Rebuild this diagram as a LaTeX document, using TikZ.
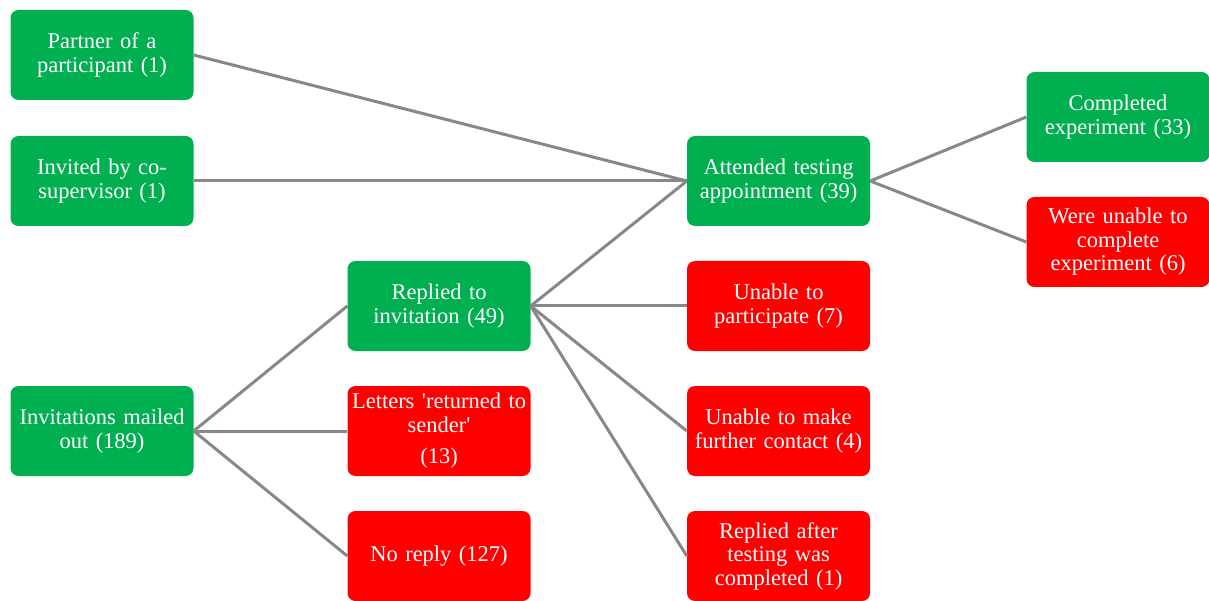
\documentclass[tikz,border=0pt]{standalone}
\usepackage{fontspec}
\setmainfont{Liberation Serif}[Ligatures=TeXOff, WordSpace=0.75]
\usepackage{tikz}
\usepackage{xcolor}
\usetikzlibrary{positioning}
\definecolor{boxgrn}{HTML}{00B050}
\definecolor{boxred}{HTML}{FF0000}
\definecolor{lnk}{HTML}{888888}
\tikzset{grnbox/.style={rectangle, rounded corners=8pt, fill=boxgrn, text=white, minimum width=183pt, minimum height=90pt, text width=178pt, align=center, inner sep=0pt, font=\fontsize{22.5}{23.5}\selectfont}}
\tikzset{redbox/.style={grnbox, fill=boxred}}
\tikzset{lnk/.style={draw=lnk, line width=3pt}}

\begin{document}
\begin{tikzpicture}[x=1pt, y=-1pt]
                        \useasboundingbox (0, 0) rectangle (1209, 601);

                        \node[grnbox] (partner) at (102, 55) {Partner of a\\participant (1)};
                        \node[grnbox] (invited) at (102, 181) {Invited by co-\\supervisor (1)};
                        \node[grnbox] (mailed) at (102, 431) {Invitations mailed\\out (189)};

                        \node[grnbox] (replied) at (439, 306) {Replied to\\invitation (49)};
                        \node[redbox] (letters) at (439, 431) {Letters 'returned to\\sender'\\[8pt](13)};
                        \node[redbox] (noreply) at (439, 556) {No reply (127)};

                        \node[grnbox] (attended) at (778.5, 181) {Attended testing\\appointment (39)};
                        \node[redbox] (unable) at (778.5, 306) {Unable to\\participate (7)};
                        \node[redbox] (contact) at (778.5, 431) {Unable to make\\further contact (4)};
                        \node[redbox] (after) at (778.5, 556) {Replied after\\testing was\\completed (1)};

                        \node[grnbox] (completed) at (1118, 117) {Completed\\experiment (33)};
                        \node[redbox] (wereunable) at (1118, 242) {Were unable to\\complete\\experiment (6)};

                        \draw
                        (partner.east) edge[lnk] (attended.west)
                        (invited.east) edge[lnk] (attended.west)
                        (mailed.east) edge[lnk] (replied.west)
                        (mailed.east) edge[lnk] (letters.west)
                        (mailed.east) edge[lnk] (noreply.west)
                        (replied.east) edge[lnk] (attended.west)
                        (replied.east) edge[lnk] (unable.west)
                        (replied.east) edge[lnk] (contact.west)
                        (replied.east) edge[lnk] (after.west)
                        (attended.east) edge[lnk] (completed.west)
                        (attended.east) edge[lnk] (wereunable.west);
                    \end{tikzpicture}
\end{document}
